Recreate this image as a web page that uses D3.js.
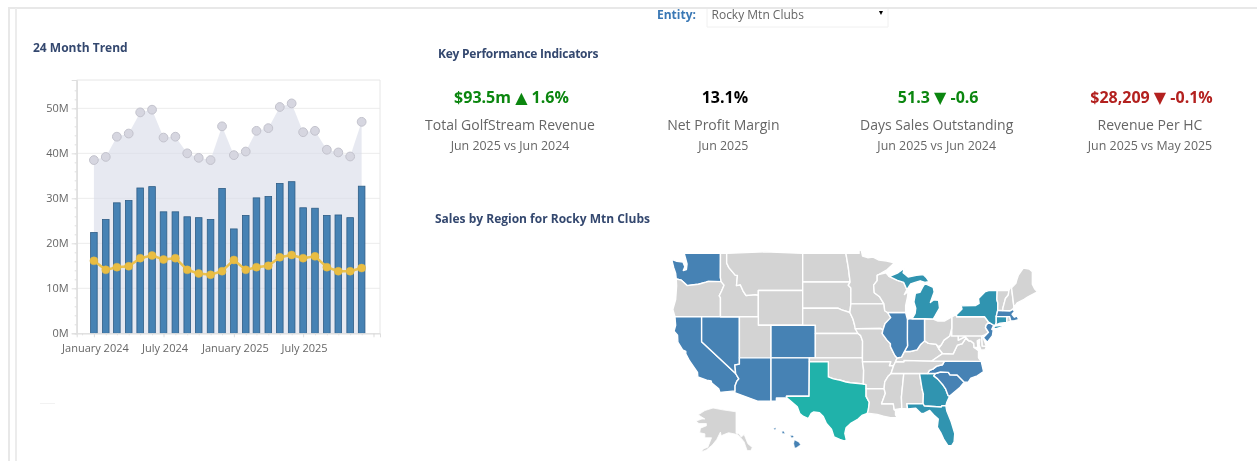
<!DOCTYPE html>
<html>
<head>
<meta charset="utf-8">
<title>24 Month Trend</title>
<script src="https://cdn.jsdelivr.net/npm/d3@7"></script>
<style>
  body { margin: 0; background: #fff; overflow: hidden; }
  svg { display: block; font-family: "Open Sans", sans-serif; filter: blur(0.6px); }
  .heading { font-size: 12px; font-weight: 700; fill: #34486f; }
  .axis text { font-size: 11px; fill: #666; font-family: "Open Sans", sans-serif; }
  .axis line, .axis path { stroke: #dedede; }
  .grid line { stroke: #ececec; }
  .state { stroke: #fff; stroke-width: 1.4px; stroke-linejoin: round; }
</style>
</head>
<body>
<div id="graphic"></div>
<script>
var months = ["2024-01","2024-02","2024-03","2024-04","2024-05","2024-06","2024-07","2024-08","2024-09","2024-10","2024-11","2024-12",
              "2025-01","2025-02","2025-03","2025-04","2025-05","2025-06","2025-07","2025-08","2025-09","2025-10","2025-11","2025-12"];
var barValues = [22.4,25.3,29.0,29.5,32.3,32.6,27.0,27.0,25.9,25.7,25.3,32.2,23.2,26.2,30.1,30.4,33.3,33.7,27.9,27.8,26.2,26.3,25.7,32.7];
var areaValues = [38.5,39.2,43.7,44.4,49.1,49.7,43.5,43.7,40.0,39.0,38.5,46.0,39.6,40.4,45.0,45.6,50.3,51.1,44.7,45.0,40.8,40.2,39.3,47.0];
var lineValues = [16.1,14.1,14.7,14.9,16.7,17.3,16.4,16.7,14.1,13.3,13.0,13.8,16.3,14.1,14.7,15.0,16.9,17.4,16.7,17.1,14.7,13.8,13.8,14.5];
var yTicks = [0,10,20,30,40,50];
var xTickMonths = ["2024-01","2024-07","2025-01","2025-07","2026-01"];

var kpiNames = ["Total GolfStream Revenue","Net Profit Margin","Days Sales Outstanding","Revenue Per HC"];
var kpiValues = ["$93.5m \u25B2 1.6%","13.1%","51.3 \u25BC -0.6","$28,209 \u25BC -0.1%"];
var kpiPeriods = ["Jun 2025 vs Jun 2024","Jun 2025","Jun 2025 vs Jun 2024","Jun 2025 vs May 2025"];
var kpiColors = ["#0b860f","#000000","#0b860f","#b3211f"];

var highStates = ["TX"];
var midStates = ["MI","NY","CT","GA","FL"];
var lowStates = ["WA","CA","NV","CO","AZ","NM","IL","IN","NC","SC","NJ","MA","HI"];

// state outlines, lon/lat, simplified by hand
var stateOutlines = {
  WA: [[[-124.73,48.38],[-123.9,48.16],[-122.95,48.1],[-122.65,47.6],[-122.9,47.2],[-122.4,47.3],[-122.3,47.9],[-122.5,48.4],[-122.75,49],[-117.03,49],[-117.04,46.42],[-116.92,45.99],[-118.98,46],[-119.3,45.93],[-120.5,45.7],[-121.2,45.65],[-122.3,45.55],[-122.8,45.9],[-123.2,46.15],[-124,46.27],[-124.1,46.9],[-124.4,47.5]]],
  OR: [[[-124,46.27],[-123.2,46.15],[-122.8,45.9],[-122.3,45.55],[-121.2,45.65],[-120.5,45.7],[-119.3,45.93],[-118.98,46],[-116.92,45.99],[-116.46,45.6],[-116.85,44.95],[-117.22,44.4],[-117.03,44.2],[-117.03,42],[-124.21,42],[-124.55,42.84],[-124.1,44],[-123.95,45.5]]],
  CA: [[[-124.21,42],[-120,42],[-120,39],[-114.63,35],[-114.13,34.3],[-114.45,34],[-114.72,33.4],[-114.72,32.72],[-117.12,32.53],[-117.3,33],[-118.4,33.75],[-118.5,34.03],[-119.2,34.15],[-120.6,34.55],[-120.65,35.15],[-121.9,36.6],[-122.5,37.5],[-122.5,37.8],[-123,38],[-123.75,38.95],[-123.8,39.8],[-124.35,40.3],[-124.1,41]]],
  NV: [[[-120,42],[-114.04,42],[-114.04,36.2],[-114.75,36.1],[-114.63,35],[-120,39]]],
  ID: [[[-117.03,49],[-116.05,49],[-116.05,48],[-115.7,47.5],[-114.7,46.7],[-114.35,46.65],[-114.5,45.55],[-113.9,45.65],[-113.45,44.95],[-113,44.45],[-111.5,44.55],[-111.05,44.47],[-111.05,42],[-117.03,42],[-117.03,44.2],[-117.22,44.4],[-116.85,44.95],[-116.46,45.6],[-116.92,45.99],[-117.04,46.42]]],
  MT: [[[-116.05,49],[-104.05,49],[-104.05,45],[-111.05,45],[-111.05,44.47],[-111.5,44.55],[-113,44.45],[-113.45,44.95],[-113.9,45.65],[-114.5,45.55],[-114.35,46.65],[-114.7,46.7],[-115.7,47.5],[-116.05,48]]],
  WY: [[[-111.05,45],[-104.05,45],[-104.05,41],[-111.05,41]]],
  UT: [[[-114.04,42],[-111.05,42],[-111.05,41],[-109.05,41],[-109.05,37],[-114.04,37]]],
  CO: [[[-109.05,41],[-102.05,41],[-102.05,37],[-109.05,37]]],
  AZ: [[[-114.04,37],[-109.05,37],[-109.05,31.33],[-111.07,31.33],[-114.81,32.5],[-114.72,32.72],[-114.72,33.4],[-114.45,34],[-114.13,34.3],[-114.63,35],[-114.75,36.1],[-114.04,36.2]]],
  NM: [[[-109.05,37],[-103,37],[-103.04,32],[-106.62,32],[-106.53,31.78],[-108.2,31.78],[-108.2,31.33],[-109.05,31.33]]],
  ND: [[[-104.05,49],[-97.23,49],[-96.85,47.5],[-96.56,45.94],[-104.05,45.94]]],
  SD: [[[-104.05,45.94],[-96.56,45.94],[-96.85,45.6],[-96.45,45.3],[-96.45,43.5],[-96.6,42.5],[-97.9,42.8],[-98.5,43],[-104.05,43]]],
  NE: [[[-104.05,43],[-98.5,43],[-97.9,42.8],[-96.6,42.5],[-96.1,41.7],[-95.85,41],[-95.31,40],[-102.05,40],[-102.05,41],[-104.05,41]]],
  KS: [[[-102.05,40],[-95.31,40],[-94.9,39.75],[-94.6,39.1],[-94.62,37],[-102.05,37]]],
  OK: [[[-103,37],[-94.62,37],[-94.43,35.4],[-94.48,33.64],[-96.5,33.8],[-97.2,33.9],[-98.1,34.13],[-99.2,34.3],[-100,34.56],[-100,36.5],[-103,36.5]]],
  TX: [[[-106.62,32],[-103.04,32],[-103,36.5],[-100,36.5],[-100,34.56],[-99.2,34.3],[-98.1,34.13],[-97.2,33.9],[-96.5,33.8],[-94.48,33.64],[-94.04,33.55],[-94.04,33],[-94.04,31.99],[-93.53,31.18],[-93.7,30.1],[-93.85,29.7],[-94.7,29.4],[-95.3,28.9],[-96.4,28.35],[-97.2,27.7],[-97.4,26.9],[-97.15,25.96],[-97.5,25.85],[-98.2,26.05],[-99.1,26.4],[-99.5,27.5],[-100.3,28.3],[-100.8,29.25],[-101.4,29.77],[-102.3,29.88],[-102.7,29.7],[-103.15,28.98],[-104,29.3],[-104.5,29.65],[-104.9,30.6],[-106,31.4],[-106.53,31.78]]],
  MN: [[[-97.23,49],[-95.15,49],[-95.15,49.38],[-94.8,49.3],[-94.6,48.72],[-93.8,48.55],[-92.95,48.62],[-92,48.3],[-90.8,48.2],[-89.6,48],[-90.7,47.3],[-92.05,46.75],[-92.29,46.66],[-92.29,46.1],[-92.85,45.6],[-92.75,44.75],[-91.9,44.3],[-91.22,43.5],[-96.45,43.5],[-96.45,45.3],[-96.85,45.6],[-96.56,45.94],[-96.85,47.5]]],
  IA: [[[-96.45,43.5],[-91.22,43.5],[-91.1,42.7],[-90.65,42.5],[-90.15,41.9],[-91.05,41.2],[-91.4,40.4],[-91.73,40.61],[-95.77,40.58],[-95.85,41],[-96.1,41.7],[-96.6,42.5]]],
  MO: [[[-95.77,40.58],[-91.73,40.61],[-91.4,40.4],[-91.5,40],[-90.75,39.2],[-90.2,38.75],[-90.2,38.4],[-89.5,37.3],[-89.15,36.98],[-89.4,36.5],[-89.7,36],[-90.37,36],[-90.15,36.5],[-94.62,36.5],[-94.62,37],[-94.6,39.1],[-94.9,39.75],[-95.31,40]]],
  AR: [[[-94.62,36.5],[-90.15,36.5],[-90.37,36],[-89.7,36],[-90.1,35],[-90.6,34.6],[-91.1,33.9],[-91.2,33],[-94.04,33],[-94.04,33.55],[-94.48,33.64],[-94.43,35.4]]],
  LA: [[[-94.04,33],[-91.2,33],[-91,32.4],[-91.6,31],[-89.75,31],[-89.6,30.2],[-89.4,30.05],[-89.4,29.5],[-89.1,29.1],[-90.2,29.1],[-91.3,29.3],[-92.3,29.55],[-93.85,29.7],[-93.7,30.1],[-93.53,31.18],[-94.04,31.99]]],
  MS: [[[-90.1,35],[-88.2,35],[-88.1,34.9],[-88.47,31.9],[-88.4,30.35],[-89.6,30.2],[-89.75,31],[-91.6,31],[-91,32.4],[-91.2,33],[-91.1,33.9],[-90.6,34.6]]],
  AL: [[[-88.2,35],[-85.6,35],[-85.18,32.87],[-85,32.3],[-85.05,31],[-87.6,31],[-87.5,30.3],[-88.4,30.35],[-88.47,31.9],[-88.1,34.9]]],
  GA: [[[-85.6,35],[-83.1,35],[-83.35,34.7],[-82.75,34.3],[-81.9,33.5],[-81.5,33],[-81.1,32.1],[-80.85,32.03],[-81.3,31.2],[-81.45,30.72],[-82.05,30.75],[-82.2,30.55],[-84.86,30.7],[-85.05,31],[-85,32.3],[-85.18,32.87]]],
  FL: [[[-87.6,31],[-85.05,31],[-84.86,30.7],[-82.2,30.55],[-82.05,30.75],[-81.45,30.72],[-81.3,30],[-80.6,28.5],[-80.05,26.9],[-80.15,25.7],[-80.5,25.2],[-81.1,25.15],[-81.8,26.1],[-82.2,26.9],[-82.8,27.8],[-82.65,28.9],[-83.4,29.5],[-84,30.1],[-85,29.65],[-85.4,29.7],[-86.2,30.4],[-87.5,30.3]]],
  SC: [[[-83.35,34.7],[-83.1,35],[-82.3,35.2],[-81.05,35.15],[-80.8,34.82],[-79.67,34.8],[-78.55,33.86],[-79.2,33.2],[-80.85,32.03],[-81.1,32.1],[-81.5,33],[-81.9,33.5],[-82.75,34.3]]],
  NC: [[[-84.32,35],[-84.05,35.4],[-83.5,35.57],[-82.9,35.95],[-82,36.12],[-81.68,36.59],[-75.87,36.55],[-75.5,35.25],[-76.5,34.7],[-77.5,34.4],[-77.9,33.9],[-78.55,33.86],[-79.67,34.8],[-80.8,34.82],[-81.05,35.15],[-82.3,35.2],[-83.1,35]]],
  TN: [[[-90.1,35],[-88.2,35],[-85.6,35],[-84.32,35],[-84.05,35.4],[-83.5,35.57],[-82.9,35.95],[-82,36.12],[-81.68,36.59],[-83.68,36.6],[-86.5,36.65],[-88.07,36.68],[-88.07,36.5],[-89.4,36.5],[-89.7,36]]],
  KY: [[[-89.4,36.5],[-88.07,36.5],[-88.07,36.68],[-86.5,36.65],[-83.68,36.6],[-81.97,37.54],[-82.6,38.17],[-83,38.7],[-84.2,38.8],[-84.82,39.1],[-85.4,38.7],[-86,38],[-87.1,37.8],[-88,37.8],[-88.45,37.1],[-89.15,36.98]]],
  VA: [[[-83.68,36.6],[-81.68,36.59],[-75.87,36.55],[-76.3,37],[-76.3,37.9],[-77,38.3],[-77.05,38.8],[-77.5,39.1],[-77.83,39.13],[-78.35,39.4],[-78.87,38.76],[-79.65,38.58],[-80.3,37.5],[-81.97,37.54]]],
  WV: [[[-81.97,37.54],[-80.3,37.5],[-79.65,38.58],[-78.87,38.76],[-78.35,39.4],[-77.83,39.13],[-78.4,39.62],[-79.48,39.2],[-79.48,39.72],[-80.52,39.72],[-80.52,40.64],[-80.85,39.7],[-81.75,39.2],[-82.2,38.6],[-82.6,38.17]]],
  MD: [[[-79.48,39.72],[-75.79,39.72],[-75.7,38.46],[-75.05,38.45],[-75.25,38.03],[-75.9,37.95],[-76.2,38.6],[-76.1,39.3],[-76.5,39.1],[-76.4,38.3],[-77,38.3],[-77.05,38.8],[-77.5,39.1],[-77.83,39.13],[-78.4,39.62],[-79.48,39.2]]],
  DE: [[[-75.79,39.72],[-75.4,39.8],[-75.55,39.5],[-75.05,38.45],[-75.7,38.46]]],
  PA: [[[-80.52,41.98],[-79.76,42.27],[-79.76,42],[-75.35,42],[-74.7,41.36],[-75.1,41],[-75.2,40.7],[-74.72,40.15],[-75.4,39.8],[-75.79,39.72],[-80.52,39.72]]],
  NJ: [[[-75.1,41],[-74.7,41.36],[-73.9,41],[-74.2,40.5],[-73.98,40.4],[-74.1,39.75],[-74.9,38.95],[-75.55,39.5],[-74.72,40.15],[-75.2,40.7]]],
  NY: [[[-79.76,42],[-79.76,42.27],[-78.9,42.9],[-79.05,43.27],[-76.8,43.3],[-76.2,43.55],[-76.3,44.1],[-75.3,44.85],[-74.7,45],[-73.35,45],[-73.4,44],[-73.25,43.6],[-73.27,42.75],[-73.5,42.05],[-73.5,41.3],[-73.65,41],[-73.9,41],[-74.7,41.36],[-75.35,42]],
       [[-74,40.6],[-73.7,40.9],[-72.6,40.98],[-72,41.1],[-72.6,40.8],[-73.5,40.6]]],
  CT: [[[-73.5,42.05],[-71.8,42.02],[-71.85,41.32],[-72.9,41.25],[-73.65,41],[-73.5,41.3]]],
  RI: [[[-71.8,42.02],[-71.38,42.02],[-71.2,41.5],[-71.85,41.32]]],
  MA: [[[-73.5,42.05],[-73.27,42.75],[-71.3,42.7],[-70.9,42.88],[-70.6,42.65],[-71,42.3],[-70.65,41.95],[-70.2,42.07],[-69.95,41.67],[-70.6,41.55],[-71.2,41.5],[-71.38,42.02],[-71.8,42.02]]],
  VT: [[[-73.35,45],[-71.5,45],[-71.6,44.5],[-72.05,44.1],[-72.45,43],[-72.46,42.73],[-73.27,42.75],[-73.25,43.6],[-73.4,44]]],
  NH: [[[-71.5,45],[-71.3,45.3],[-71.08,45.3],[-70.7,43.1],[-70.9,42.88],[-71.3,42.7],[-72.46,42.73],[-72.45,43],[-72.05,44.1],[-71.6,44.5]]],
  ME: [[[-71.08,45.3],[-70.4,45.8],[-70.25,46.2],[-70,46.7],[-69.23,47.46],[-68.3,47.35],[-67.8,47.07],[-67.8,45.7],[-67.45,45.2],[-67,44.85],[-68.5,44.3],[-69.1,44],[-70.2,43.6],[-70.7,43.1]]],
  OH: [[[-84.82,41.76],[-83.45,41.73],[-82.7,41.5],[-81.7,41.5],[-80.52,41.98],[-80.52,40.64],[-80.85,39.7],[-81.75,39.2],[-82.2,38.6],[-82.6,38.4],[-83,38.7],[-84.2,38.8],[-84.82,39.1]]],
  IN: [[[-87.52,41.71],[-87.2,41.75],[-86.8,41.76],[-84.82,41.76],[-84.82,39.1],[-85.4,38.7],[-86,38],[-87.1,37.8],[-88,37.8],[-87.5,38.5],[-87.53,39.35]]],
  IL: [[[-90.65,42.5],[-87.8,42.5],[-87.52,41.71],[-87.53,39.35],[-87.5,38.5],[-88,37.8],[-88.45,37.1],[-89.15,36.98],[-89.5,37.3],[-90.2,38.4],[-90.2,38.75],[-90.75,39.2],[-91.5,40],[-91.4,40.4],[-91.05,41.2],[-90.15,41.9]]],
  WI: [[[-92.29,46.66],[-92.05,46.75],[-90.9,46.95],[-90.4,46.55],[-89.1,46.13],[-88.1,45.9],[-87.6,45.1],[-88,44.55],[-87.4,44.9],[-87.5,44.3],[-87.8,43.3],[-87.8,42.5],[-90.65,42.5],[-91.1,42.7],[-91.22,43.5],[-91.9,44.3],[-92.75,44.75],[-92.85,45.6],[-92.29,46.1]]],
  MI: [[[-86.8,41.76],[-84.82,41.76],[-83.45,41.73],[-83.15,42.1],[-82.45,43],[-82.6,43.9],[-83.4,43.95],[-83.9,43.65],[-83.3,44.85],[-83.45,45.35],[-84.75,45.78],[-85.1,45.4],[-85.55,44.8],[-86.25,44.7],[-86.5,43.7],[-86.2,43],[-86.3,42.4]],
       [[-90.4,46.55],[-89.1,46.13],[-88.1,45.9],[-87.6,45.1],[-87,45.75],[-86.3,45.9],[-85.5,46.08],[-84.75,45.9],[-84.1,46],[-84.55,46.45],[-85,46.75],[-86.1,46.67],[-87.4,46.5],[-88.2,46.95],[-88,47.45],[-89,46.95]]]
};
var alaskaOutline = [[[-141,69.65],[-141,60.3],[-139,60],[-137.5,58.9],[-135.5,59.7],[-133,57],[-130,55.9],[-131,55],[-133.5,55],[-135.5,57.5],[-137,58.3],[-140,59.7],[-146,60.5],[-148,60],[-151,59.3],[-151.5,60.8],[-152.5,59.5],[-154,58.2],[-157,56.6],[-161,55.2],[-164.5,54.6],[-163,55.5],[-160,56],[-157.5,58.7],[-162,58.7],[-162,60],[-165.5,60.5],[-165,62.5],[-161,63.5],[-161,64.5],[-166,64.5],[-168,65.6],[-164,66.5],[-162,66.5],[-166.5,68.3],[-162,70.2],[-156.5,71.3],[-150,70.5]]];
var hawaiiOutline = [[[-155.9,20.25],[-155.1,19.9],[-154.8,19.5],[-155.65,18.95],[-155.9,19.1],[-156.05,19.7]],
                     [[-156.7,20.95],[-156.25,20.95],[-156,20.75],[-156.4,20.58]],
                     [[-158.25,21.55],[-157.95,21.7],[-157.65,21.3],[-158.1,21.3]],
                     [[-159.75,22.1],[-159.4,22.2],[-159.3,22],[-159.6,21.9]]];

var width = 1257;
var height = 461;
var top_ = 80, bottom = 333.3, left = 76.7, right = 380;

var parseMonth = d3.timeParse("%Y-%m");
var trend = months.map(function(m, i) {
  return { date: parseMonth(m), bar: barValues[i], area: areaValues[i], line: lineValues[i] };
});

var svg = d3.select("#graphic").append("svg")
  .attr("width", width)
  .attr("height", height);

function renderFrame() {
  svg.append("line").attr("x1", 8).attr("x2", width).attr("y1", 8).attr("y2", 8)
    .attr("stroke", "#e8e8e8").attr("stroke-width", 2);
  svg.append("line").attr("x1", 9).attr("x2", 9).attr("y1", 8).attr("y2", height)
    .attr("stroke", "#e8e8e8").attr("stroke-width", 2);
  svg.append("line").attr("x1", 16).attr("x2", 16).attr("y1", 8).attr("y2", height)
    .attr("stroke", "#ececec").attr("stroke-width", 2);
  svg.append("line").attr("x1", 40).attr("x2", 55).attr("y1", 403.5).attr("y2", 403.5)
    .attr("stroke", "#f2f2f2");
}

function renderHeadings() {
  svg.append("text").attr("class", "heading").attr("x", 33).attr("y", 52).text("24 Month Trend");
  svg.append("text").attr("class", "heading").attr("x", 438).attr("y", 58)
    .style("letter-spacing", "-0.24px").text("Key Performance Indicators");
  svg.append("text").attr("class", "heading").attr("x", 435).attr("y", 223).text("Sales by Region for Rocky Mtn Clubs");
}

function renderEntity() {
  svg.append("text").attr("x", 657).attr("y", 19)
    .style("font-size", "12px").style("font-weight", 700).attr("fill", "#3a78b5").text("Entity:");
  svg.append("path").attr("d", "M707,9V27H888V9")
    .attr("fill", "none").attr("stroke", "#f0f0f0");
  svg.append("text").attr("x", 711.5).attr("y", 19)
    .style("font-size", "12px").attr("fill", "#666").text("Rocky Mtn Clubs");
  svg.append("text").attr("x", 881).attr("y", 15).attr("text-anchor", "middle")
    .style("font-size", "7px").attr("fill", "#000").text("\u25BC");
}

function renderTrend() {
  var xScale = d3.scaleTime()
    .domain([new Date(2023, 10, 17), new Date(2026, 0, 18)])
    .range([left, right]);
  var yScale = d3.scaleLinear()
    .domain([0, 56.3])
    .range([bottom, top_]);

  svg.append("g").attr("class", "grid").selectAll("line")
    .data(yTicks.slice(1))
    .join("line")
    .attr("x1", left).attr("x2", right)
    .attr("y1", function(d) { return yScale(d); })
    .attr("y2", function(d) { return yScale(d); });

  svg.append("path")
    .attr("d", "M" + left + "," + bottom + "V" + top_ + "H" + right + "V" + bottom)
    .attr("fill", "none").attr("stroke", "#e6e6e6");

  svg.append("path").datum(trend)
    .attr("fill", "#d9dbe8")
    .attr("fill-opacity", 0.62)
    .attr("d", d3.area()
      .x(function(d) { return xScale(d.date); })
      .y0(yScale(0))
      .y1(function(d) { return yScale(d.area); }));

  svg.append("g").selectAll("circle")
    .data(trend)
    .join("circle")
    .attr("cx", function(d) { return xScale(d.date); })
    .attr("cy", function(d) { return yScale(d.area); })
    .attr("r", 4.4)
    .attr("fill", "#d6d6e0")
    .attr("stroke", "#c2c2cc");

  svg.append("g").selectAll("rect")
    .data(trend)
    .join("rect")
    .attr("x", function(d) { return xScale(d.date) - 3.3; })
    .attr("y", function(d) { return yScale(d.bar); })
    .attr("width", 6.6)
    .attr("height", function(d) { return yScale(0) - yScale(d.bar); })
    .attr("fill", "#4682b4")
    .attr("stroke", "#2f5d86")
    .attr("stroke-width", 0.8);

  svg.append("path").datum(trend)
    .attr("fill", "none")
    .attr("stroke", "#ecc24e")
    .attr("stroke-width", 2.5)
    .attr("d", d3.line()
      .x(function(d) { return xScale(d.date); })
      .y(function(d) { return yScale(d.line); }));

  svg.append("g").selectAll("circle")
    .data(trend)
    .join("circle")
    .attr("cx", function(d) { return xScale(d.date); })
    .attr("cy", function(d) { return yScale(d.line); })
    .attr("r", 4)
    .attr("fill", "#e9bd42")
    .attr("stroke", "#dcb547")
    .attr("stroke-width", 0.5);

  var xAxis = d3.axisBottom(xScale)
    .tickValues(xTickMonths.map(parseMonth))
    .tickSize(4)
    .tickFormat(function(d) {
      return d.getFullYear() == 2026 ? "" : d3.timeFormat("%B %Y")(d);
    });
  var xMinor = d3.axisBottom(xScale)
    .ticks(d3.timeMonth.every(1))
    .tickSize(2)
    .tickFormat("");
  var yAxis = d3.axisLeft(yScale)
    .tickValues(yTicks)
    .tickSize(5)
    .tickFormat(function(d) { return d + "M"; });
  var yMinor = d3.axisLeft(yScale)
    .tickValues(d3.range(0, 56, 2))
    .tickSize(2)
    .tickFormat("");

  svg.append("g").attr("class", "axis").attr("transform", "translate(0," + bottom + ")").call(xMinor);
  svg.append("g").attr("class", "axis").attr("transform", "translate(0," + bottom + ")").call(xAxis)
    .selectAll("text").attr("dx", 1).attr("dy", "1.1em");
  svg.append("g").attr("class", "axis").attr("transform", "translate(" + left + ",0)").call(yMinor);
  svg.append("g").attr("class", "axis").attr("transform", "translate(" + left + ",0)").call(yAxis);
}

function renderKpis() {
  var xKpi = d3.scalePoint().domain(kpiNames).range([510, 1150]);
  var kpi = svg.append("g").selectAll("g")
    .data(kpiNames)
    .join("g")
    .attr("text-anchor", "middle")
    .attr("transform", function(d) { return "translate(" + xKpi(d) + ",0)"; });

  kpi.append("text").attr("y", 103)
    .attr("dx", 1.5)
    .style("font-size", "16px").style("font-weight", 700)
    .attr("fill", function(d, i) { return kpiColors[i]; })
    .each(function(d, i) {
      // arrow glyph is too small in Open Sans, DejaVu has a bigger one
      var text = d3.select(this);
      kpiValues[i].split(/([\u25B2\u25BC])/).forEach(function(part) {
        var t = text.append("tspan").text(part);
        if (part == "\u25B2" || part == "\u25BC") t.style("font-family", "DejaVu Sans");
      });
    });
  kpi.append("text").attr("y", 130)
    .style("font-size", "14px").attr("fill", "#666")
    .text(function(d) { return d; });
  kpi.append("text").attr("y", 150)
    .style("font-size", "12.4px").attr("fill", "#666")
    .text(function(d, i) { return kpiPeriods[i]; });
}

function stateColor(code) {
  if (highStates.indexOf(code) >= 0) return "#20b2aa";
  if (midStates.indexOf(code) >= 0) return "#3094b0";
  if (lowStates.indexOf(code) >= 0) return "#4682b4";
  return "#d3d3d3";
}

function toPolygon(rings) {
  var geo = { type: "MultiPolygon", coordinates: rings.map(function(r) { return [r.concat([r[0]])]; }) };
  // d3 wants clockwise rings, flip any that came out inside-out
  geo.coordinates.forEach(function(p) {
    if (d3.geoArea({ type: "Polygon", coordinates: p }) > 2 * Math.PI) p[0].reverse();
  });
  return geo;
}

function insetPath(lonScale, latScale) {
  return d3.geoPath(d3.geoTransform({
    point: function(x, y) { this.stream.point(lonScale(x), latScale(y)); }
  }));
}

function renderMap() {
  var projection = d3.geoMercator().scale(363).translate([1461.9, 610.5]);
  var path = d3.geoPath(projection);
  var codes = Object.keys(stateOutlines);

  svg.append("g").selectAll("path")
    .data(codes)
    .join("path")
    .attr("class", "state")
    .attr("fill", stateColor)
    .attr("d", function(d) { return path(toPolygon(stateOutlines[d])); });

  var alaskaPath = insetPath(
    d3.scaleLinear().domain([-168, -141]).range([696, 736]),
    d3.scaleLinear().domain([71.3, 59.5, 54.6]).range([408, 435, 452]));
  svg.append("path")
    .attr("class", "state").attr("fill", stateColor("AK")).style("stroke-width", "0.8px")
    .attr("d", alaskaPath(toPolygon(alaskaOutline)));

  var hawaiiPath = insetPath(
    d3.scaleLinear().domain([-159.5, -155.5]).range([775, 796.7]),
    d3.scaleLinear().domain([22, 19.6]).range([429, 444]));
  svg.append("path")
    .attr("class", "state").attr("fill", stateColor("HI")).style("stroke-width", "0.5px")
    .attr("d", hawaiiPath(toPolygon(hawaiiOutline)));
}

renderFrame();
renderHeadings();
renderEntity();
renderTrend();
renderKpis();
renderMap();
</script>
</body>
</html>
